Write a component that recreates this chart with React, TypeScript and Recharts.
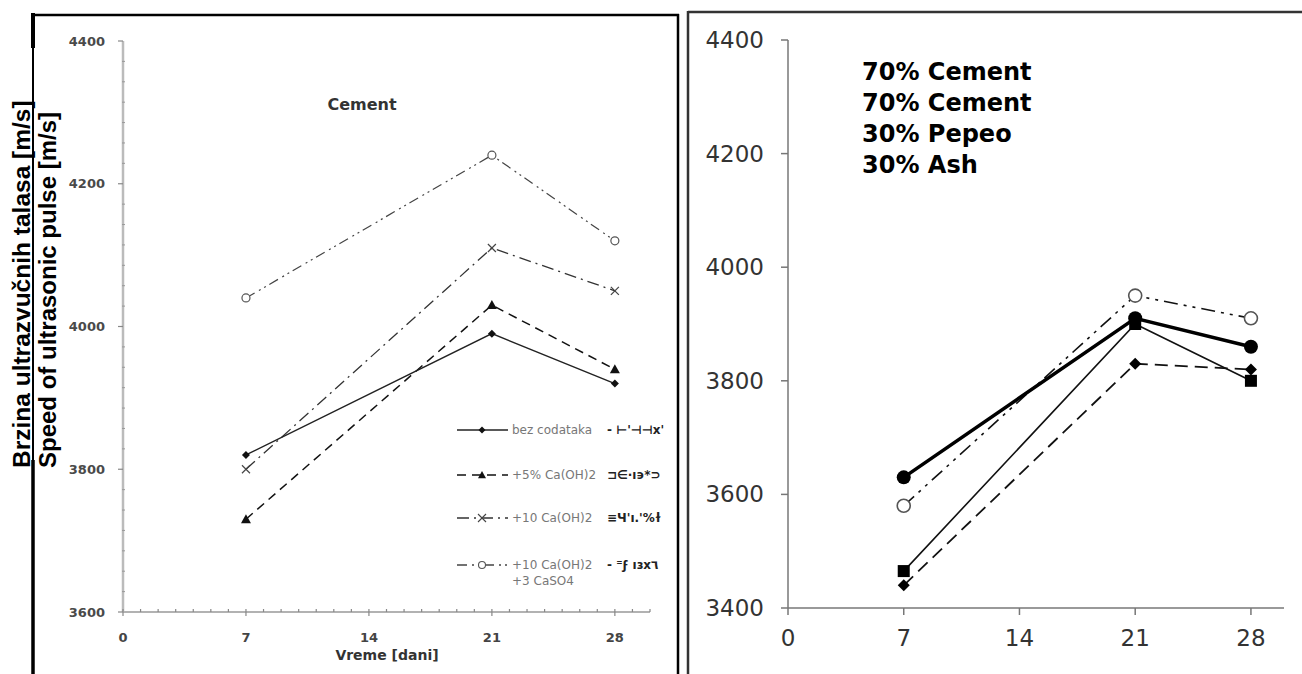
import React from 'react';
import { LineChart, Line, XAxis, YAxis, Legend } from 'recharts';

// days of curing
const days = [7, 21, 28];

// left panel - Cement
const bezDodataka = [3820, 3990, 3920];
const caOH5 = [3730, 4030, 3940];
const caOH10 = [3800, 4110, 4050];
const caOH10CaSO4 = [4040, 4240, 4120];

const cementNames = ['bez codataka', '+5% Ca(OH)2', '+10 Ca(OH)2', '+10 Ca(OH)2', '+3 CaSO4'];
const cementGarbled = ["-  ⊢'⊣⊣x'", "⊐∈·ı϶*⊃", "≡Ч'ı.'%ɫ", "- ⁼ϝ ıɜx٦"];

// right panel - 70% cement / 30% ash
const ashFilled = [3630, 3910, 3860];
const ashOpen = [3580, 3950, 3910];
const ashSquare = [3465, 3900, 3800];
const ashDiamond = [3440, 3830, 3820];

const dayTicks = [0, 7, 14, 21, 28];
const leftYTicks = [3600, 3800, 4000, 4200, 4400];
const rightYTicks = [3400, 3600, 3800, 4000, 4200, 4400];
const rightNote = ['70% Cement', '70% Cement', '30% Pepeo', '30% Ash'];

const leftData = days.map((d, i) => ({
  day: d,
  bez: bezDodataka[i],
  ca5: caOH5[i],
  ca10: caOH10[i],
  ca10s: caOH10CaSO4[i],
}));

const rightData = days.map((d, i) => ({
  day: d,
  filled: ashFilled[i],
  open: ashOpen[i],
  square: ashSquare[i],
  diamond: ashDiamond[i],
}));

// minor ticks on the left panel (every day, 7 per 200 m/s)
const leftXAll: number[] = [];
for (let d = 0; d <= 30; d++) leftXAll.push(d);
const leftYAll: number[] = [];
for (let k = 0; k < leftYTicks.length - 1; k++) {
  for (let j = 0; j < 7; j++) leftYAll.push(leftYTicks[k] + (j * 200) / 7);
}
leftYAll.push(4400);

const DJ = 'DejaVu Sans';

const LeftXTick = (props: any) => {
  const { x, y, payload } = props;
  const major = dayTicks.includes(payload.value);
  return (
    <g>
      <line x1={x} x2={x} y1={y - 3} y2={major ? y + 4 : y} stroke="#888" strokeWidth={1.2} />
      {major && (
        <text x={x} y={y + 25} textAnchor="middle" dominantBaseline="central" fontFamily={DJ} fontWeight="bold" fontSize={13} fill="#444">
          {payload.value}
        </text>
      )}
    </g>
  );
};

const LeftYTick = (props: any) => {
  const { x, y, payload } = props;
  const major = leftYTicks.includes(payload.value);
  return (
    <g>
      {major ? (
        <line x1={x - 5} x2={x} y1={y} y2={y} stroke="#888" strokeWidth={1.2} />
      ) : (
        <line x1={x - 1} x2={x + 2} y1={y} y2={y} stroke="#999" strokeWidth={1} />
      )}
      {major && (
        <text x={x - 18} y={y} textAnchor="end" dominantBaseline="central" fontFamily={DJ} fontWeight="bold" fontSize={13} fill="#4a4a4a">
          {payload.value}
        </text>
      )}
    </g>
  );
};

const RightXTick = (props: any) => {
  const { x, y, payload } = props;
  return (
    <g>
      <line x1={x} x2={x} y1={y} y2={y + 7} stroke="#777" strokeWidth={1.5} />
      <text x={x} y={y + 30} textAnchor="middle" dominantBaseline="central" fontFamily={DJ} fontSize={23} fill="#333">
        {payload.value}
      </text>
    </g>
  );
};

const RightYTick = (props: any) => {
  const { x, y, payload } = props;
  return (
    <g>
      <line x1={x - 7} x2={x} y1={y} y2={y} stroke="#777" strokeWidth={1.5} />
      <text x={x - 24} y={y} textAnchor="end" dominantBaseline="central" fontFamily={DJ} fontSize={23} fill="#333">
        {payload.value}
      </text>
    </g>
  );
};

// markers
const diamondPath = (cx: number, cy: number, s: number) =>
  `M${cx},${cy - s} L${cx + s},${cy} L${cx},${cy + s} L${cx - s},${cy} Z`;
const trianglePath = (cx: number, cy: number, s: number) =>
  `M${cx},${cy - s} L${cx + s},${cy + s * 0.8} L${cx - s},${cy + s * 0.8} Z`;

const DiamondDot = (s: number, fill: string) => (p: any) =>
  p.cx == null ? <g key={p.key} /> : <path key={p.key} d={diamondPath(p.cx, p.cy, s)} fill={fill} />;
const TriangleDot = (s: number) => (p: any) =>
  p.cx == null ? <g key={p.key} /> : <path key={p.key} d={trianglePath(p.cx, p.cy, s)} fill="#111" />;
const CrossDot = (s: number) => (p: any) =>
  p.cx == null ? (
    <g key={p.key} />
  ) : (
    <g key={p.key} stroke="#444" strokeWidth={1.2}>
      <line x1={p.cx - s} y1={p.cy - s} x2={p.cx + s} y2={p.cy + s} />
      <line x1={p.cx - s} y1={p.cy + s} x2={p.cx + s} y2={p.cy - s} />
    </g>
  );
const OpenDot = (r: number, stroke: string, w: number) => (p: any) =>
  p.cx == null ? <g key={p.key} /> : <circle key={p.key} cx={p.cx} cy={p.cy} r={r} fill="#fff" stroke={stroke} strokeWidth={w} />;
const FilledDot = (r: number) => (p: any) =>
  p.cx == null ? <g key={p.key} /> : <circle key={p.key} cx={p.cx} cy={p.cy} r={r} fill="#000" />;
const SquareDot = (s: number) => (p: any) =>
  p.cx == null ? <g key={p.key} /> : <rect key={p.key} x={p.cx - s} y={p.cy - s} width={s * 2} height={s * 2} fill="#000" />;

const legendRows = [
  { top: 0, dash: undefined, stroke: '#222', marker: 'diamond' },
  { top: 45, dash: '9 6', stroke: '#111', marker: 'triangle' },
  { top: 88, dash: '12 5 2 5', stroke: '#333', marker: 'cross' },
  { top: 135, dash: '10 5 2 4 2 4', stroke: '#444', marker: 'circle' },
];

const LeftLegend = () => (
  <div style={{ position: 'relative', width: 230, height: 170, fontFamily: DJ }}>
    {legendRows.map((r, i) => (
      <div key={i} style={{ position: 'absolute', left: 0, top: r.top, height: 20 }}>
        <svg width={56} height={20} style={{ position: 'absolute', left: 0, top: 0 }}>
          <line x1={2} x2={53} y1={10} y2={10} stroke={r.stroke} strokeWidth={1.4} strokeDasharray={r.dash} />
          {r.marker === 'diamond' && <path d={diamondPath(27, 10, 3.5)} fill="#111" />}
          {r.marker === 'triangle' && <path d={trianglePath(27, 10, 4)} fill="#111" />}
          {r.marker === 'cross' && (
            <g stroke="#444" strokeWidth={1.1}>
              <line x1={23} y1={6} x2={31} y2={14} />
              <line x1={23} y1={14} x2={31} y2={6} />
            </g>
          )}
          {r.marker === 'circle' && <circle cx={27} cy={10} r={3.5} fill="#fff" stroke="#555" strokeWidth={1.1} />}
        </svg>
        <div style={{ position: 'absolute', left: 57, top: 2, fontSize: 12, color: '#777', whiteSpace: 'nowrap', lineHeight: '16px' }}>
          {cementNames[i]}
          {i === 3 && <div>{cementNames[4]}</div>}
        </div>
        <div style={{ position: 'absolute', left: 152, top: 2, fontSize: 12, fontWeight: 'bold', color: '#222', whiteSpace: 'nowrap', lineHeight: '16px' }}>
          {cementGarbled[i]}
        </div>
      </div>
    ))}
  </div>
);

export default function App() {
  return (
    <div style={{ position: 'absolute', left: 0, top: 0, width: 1302, height: 674, background: '#fff', overflow: 'hidden' }}>
      {/* left panel */}
      <div style={{ position: 'absolute', left: 0, top: 0 }}>
        <LineChart width={681} height={674} data={leftData} margin={{ top: 41, right: 31, bottom: 32, left: 63 }}>
          <XAxis
            type="number"
            dataKey="day"
            domain={[0, 30]}
            ticks={leftXAll}
            interval={0}
            height={30}
            tickSize={0}
            tickMargin={0}
            tickLine={false}
            tick={LeftXTick}
            axisLine={{ stroke: '#999', strokeWidth: 1.5 }}
          />
          <YAxis
            type="number"
            domain={[3600, 4400]}
            ticks={leftYAll}
            interval={0}
            width={60}
            tickSize={0}
            tickMargin={0}
            tickLine={false}
            tick={LeftYTick}
            axisLine={{ stroke: '#bbb', strokeWidth: 2.5 }}
          />
          <Legend
            layout="vertical"
            align="center"
            verticalAlign="middle"
            content={() => <LeftLegend />}
            wrapperStyle={{ left: 455, top: 420, width: 230, height: 170 }}
          />
          <Line type="linear" dataKey="ca10s" stroke="#444" strokeWidth={1.2} strokeDasharray="10 5 2 4 2 4" dot={OpenDot(4, '#555', 1.2)} activeDot={false} isAnimationActive={false} />
          <Line type="linear" dataKey="ca10" stroke="#333" strokeWidth={1.3} strokeDasharray="12 5 2 5" dot={CrossDot(4)} activeDot={false} isAnimationActive={false} />
          <Line type="linear" dataKey="ca5" stroke="#111" strokeWidth={1.5} strokeDasharray="9 6" dot={TriangleDot(5)} activeDot={false} isAnimationActive={false} />
          <Line type="linear" dataKey="bez" stroke="#222" strokeWidth={1.4} dot={DiamondDot(4, '#111')} activeDot={false} isAnimationActive={false} />
        </LineChart>
        <div style={{ position: 'absolute', left: 262, top: 95, width: 200, textAlign: 'center', fontFamily: DJ, fontWeight: 'bold', fontSize: 16, color: '#333' }}>
          Cement
        </div>
        <div style={{ position: 'absolute', left: 287, top: 647, width: 200, textAlign: 'center', fontFamily: DJ, fontWeight: 'bold', fontSize: 14, color: '#333' }}>
          Vreme [dani]
        </div>
      </div>

      {/* right panel */}
      <div style={{ position: 'absolute', left: 690, top: 0 }}>
        <LineChart width={612} height={674} data={rightData} margin={{ top: 40, right: 18, bottom: 26, left: 28 }}>
          <XAxis
            type="number"
            dataKey="day"
            domain={[0, 30]}
            ticks={dayTicks}
            interval={0}
            height={40}
            tickSize={0}
            tickMargin={0}
            tickLine={false}
            tick={RightXTick}
            axisLine={{ stroke: '#777', strokeWidth: 1.5 }}
          />
          <YAxis
            type="number"
            domain={[3400, 4400]}
            ticks={rightYTicks}
            interval={0}
            width={70}
            tickSize={0}
            tickMargin={0}
            tickLine={false}
            tick={RightYTick}
            axisLine={{ stroke: '#777', strokeWidth: 1.5 }}
          />
          <Line type="linear" dataKey="diamond" stroke="#111" strokeWidth={1.8} strokeDasharray="13 7" dot={DiamondDot(6, '#000')} activeDot={false} isAnimationActive={false} />
          <Line type="linear" dataKey="square" stroke="#111" strokeWidth={1.6} dot={SquareDot(6)} activeDot={false} isAnimationActive={false} />
          <Line type="linear" dataKey="open" stroke="#111" strokeWidth={1.6} strokeDasharray="14 6 3 6 3 6" dot={OpenDot(6.5, '#555', 1.6)} activeDot={false} isAnimationActive={false} />
          <Line type="linear" dataKey="filled" stroke="#000" strokeWidth={3.5} dot={FilledDot(7)} activeDot={false} isAnimationActive={false} />
        </LineChart>
        <div style={{ position: 'absolute', left: 172, top: 57, fontFamily: DJ, fontWeight: 'bold', fontSize: 24, lineHeight: '31px', color: '#000' }}>
          {rightNote.map((t, i) => (
            <div key={i}>{t}</div>
          ))}
        </div>
      </div>

      {/* frames and rotated axis titles */}
      <svg width={1302} height={674} style={{ position: 'absolute', left: 0, top: 0, pointerEvents: 'none' }}>
        <line x1={32} y1={15} x2={679} y2={15} stroke="#000" strokeWidth={2.5} />
        <line x1={678} y1={14} x2={678} y2={674} stroke="#000" strokeWidth={2.5} />
        <line x1={33} y1={13} x2={33} y2={674} stroke="#000" strokeWidth={2} />
        <line x1={33} y1={13} x2={33} y2={48} stroke="#000" strokeWidth={4} />
        <line x1={33} y1={460} x2={33} y2={674} stroke="#000" strokeWidth={3.5} />
        <line x1={688} y1={12} x2={1302} y2={12} stroke="#333" strokeWidth={2.5} />
        <line x1={688} y1={11} x2={688} y2={674} stroke="#333" strokeWidth={2.5} />
        <text transform="translate(30,468) rotate(-90)" fontFamily="Liberation Sans" fontWeight="bold" fontSize={24.5} fill="#000">
          Brzina ultrazvučnih talasa [m/s]
        </text>
        <text transform="translate(56,468) rotate(-90)" fontFamily="Liberation Sans" fontWeight="bold" fontSize={24} fill="#000">
          Speed of ultrasonic pulse [m/s]
        </text>
      </svg>
    </div>
  );
}
